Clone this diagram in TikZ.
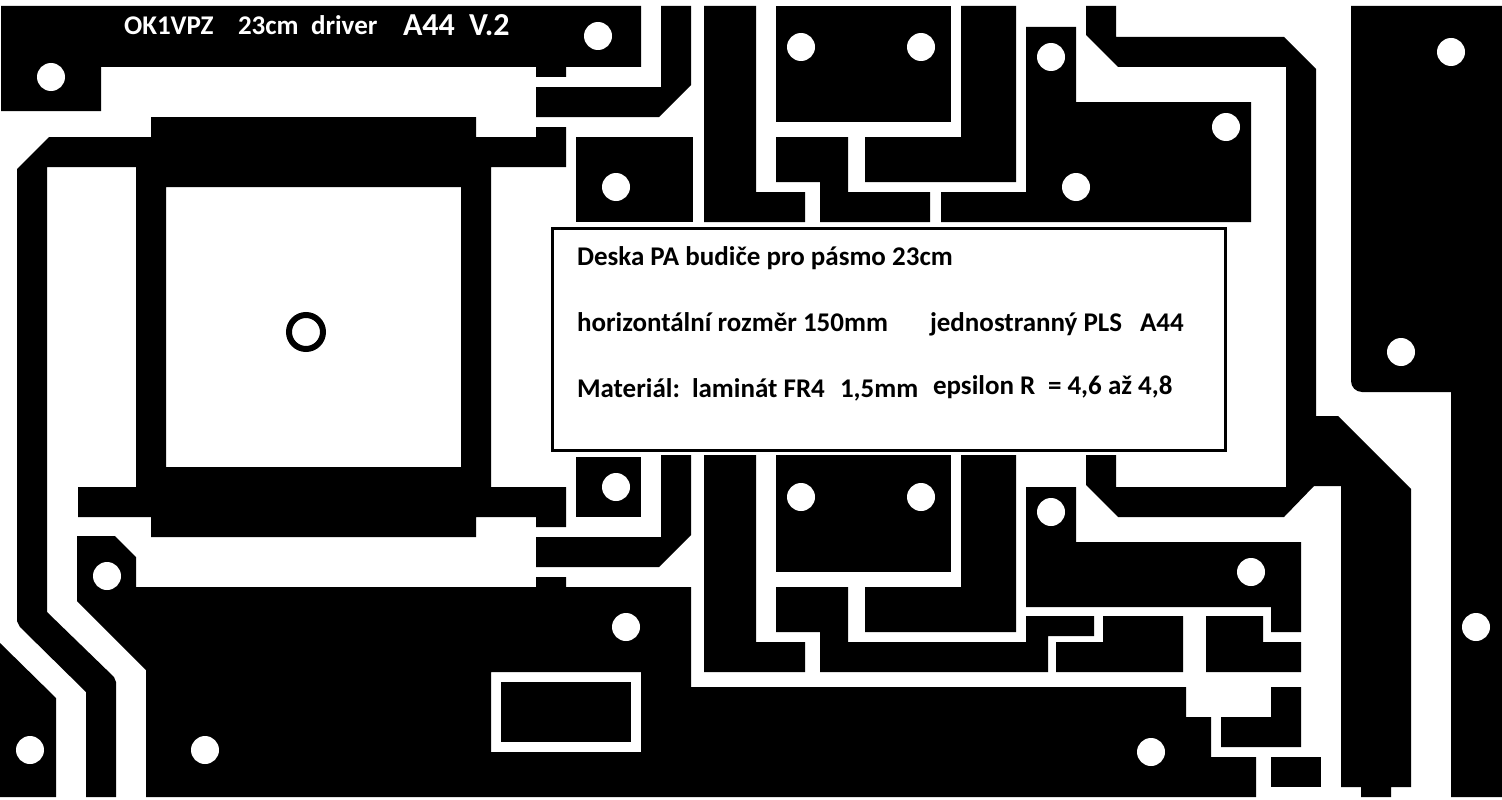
\documentclass[tikz,border=0pt]{standalone}
\usepackage{fontspec}
\setmainfont{Carlito}
\tikzset{
  copper/.style={fill=black,draw=none},
  hole/.style={fill=white,draw=none},
  infotext/.style={anchor=base west,inner sep=0pt,outer sep=0pt,text=black,font=\fontsize{27}{27}\selectfont\bfseries},
  toptext/.style={anchor=base west,inner sep=0pt,outer sep=0pt,text=white,font=\fontsize{27}{27}\selectfont\bfseries},
  toptextbig/.style={anchor=base west,inner sep=0pt,outer sep=0pt,text=white,font=\fontsize{32}{32}\selectfont\bfseries}
}
\begin{document}
\begin{tikzpicture}[x=1pt,y=-1pt]
\useasboundingbox (0,0) rectangle (1502,800);
\fill[white] (0,0) rectangle (1502,800);
% top left
\path[copper] (1,6)--(641,6)--(641,67)--(566,67)--(566,77)--(536,77)--(536,67)--(101,67)--(101,111)--(1,111)--cycle;
\path[copper] (536,87)--(661,87)--(661,6)--(691,6)--(691,85)--(659,117)--(536,117)--cycle;
% transformer block with left trace
\path[copper,even odd rule] (17,169)--(49,137)--(151,137)--(151,117)--(476,117)--(476,137)--(536,137)--(536,127)--(566,127)--(566,167)--(491,167)--(491,487)--(566,487)--(566,527)--(536,527)--(536,517)--(476,517)--(476,537)--(151,537)--(151,517)--(78,517)--(78,487)--(136,487)--(136,167)--(47,167)--(47,612)--(114,677)--(116,682)--(116,797)--(86,797)--(86,692)--(20,627)--(17,621)--cycle
 (166,187) rectangle (461,467);
% bottom-left corner
\path[copper] (0,643)--(56,698)--(56,797)--(0,797)--cycle;
% ground plane
\path[copper,even odd rule] (77,536)--(115,536)--(136,557)--(136,587)--(536,587)--(536,577)--(566,577)--(566,587)--(691,587)--(691,687)--(1186,687)--(1186,717)--(1211,717)--(1211,757)--(1256,757)--(1256,797)--(146,797)--(146,670)--(77,601)--cycle
 (491,672) rectangle (641,752);
\path[copper] (501,682) rectangle (631,742);
% upper middle
\path[copper] (576,137) rectangle (693,222);
\path[copper] (704,6)--(756,6)--(756,192)--(805,192)--(805,222)--(704,222)--cycle;
\path[copper] (776,6) rectangle (951,122);
\path[copper] (776,137)--(848,137)--(848,192)--(930,192)--(930,222)--(820,222)--(820,182)--(776,182)--cycle;
\path[copper] (961,6)--(1016,6)--(1016,182)--(865,182)--(865,137)--(961,137)--cycle;
\path[copper] (1026,27)--(1076,27)--(1076,102)--(1251,102)--(1251,222)--(941,222)--(941,192)--(1026,192)--cycle;
% long right trace
\path[copper] (1086,6)--(1116,6)--(1116,37)--(1284,37)--(1316,69)--(1316,416)--(1338,416)--(1411,489)--(1411,787)--(1391,787)--(1391,797)--(1361,797)--(1361,787)--(1341,787)--(1341,486)--(1314,486)--(1284,517)--(1118,517)--(1086,485)--(1086,455)--(1116,455)--(1116,487)--(1286,487)--(1286,67)--(1118,67)--(1086,35)--cycle;
% right plane
\path[copper] (1351,6)--(1502,6)--(1502,797)--(1451,797)--(1451,392)--(1362,392) arc[start angle=90,end angle=180,radius=11]--cycle;
% lower middle
\path[copper] (576,457) rectangle (641,517);
\path[copper] (536,537)--(661,537)--(661,455)--(691,455)--(691,535)--(659,567)--(536,567)--cycle;
\path[copper] (704,455)--(756,455)--(756,642)--(805,642)--(805,672)--(704,672)--cycle;
\path[copper] (776,455) rectangle (951,572);
\path[copper] (776,587)--(848,587)--(848,642)--(1026,642)--(1026,616)--(1094,616)--(1094,636)--(1048,636)--(1048,672)--(820,672)--(820,632)--(776,632)--cycle;
\path[copper] (961,455)--(1016,455)--(1016,632)--(865,632)--(865,587)--(961,587)--cycle;
\path[copper] (1026,487)--(1076,487)--(1076,542)--(1301,542)--(1301,632)--(1271,632)--(1271,607)--(1026,607)--cycle;
\path[copper] (1103,616)--(1183,616)--(1183,672)--(1056,672)--(1056,642)--(1103,642)--cycle;
\path[copper] (1206,616)--(1263,616)--(1263,642)--(1301,642)--(1301,672)--(1206,672)--cycle;
\path[copper] (1221,717)--(1271,717)--(1271,687)--(1301,687)--(1301,747)--(1221,747)--cycle;
\path[copper] (1271,757) rectangle (1321,787);
% holes
\foreach \hx/\hy in {51/77,598/36,801/47,921/47,1051/57,1451/52,1226/127,616/187,1076/187,1401/352,616/487,801/497,921/497,1051/512,1251/572,107/576,626/627,1476/627,30/750,205/750,1151/752}
  \path[hole] (\hx,\hy) circle[radius=14];
% centre ring
\draw[line width=6pt,black] (306,332) circle[radius=17];
% info box
\draw[line width=3pt,black,fill=white] (552.5,228.5) rectangle (1225.5,450.5);
% texts
\node[toptext] (t1) at (124,35) {OK1VPZ};
\node[toptext] (t2) at (238,35) {23cm};
\node[toptext] (t3) at (311,35) {driver};
\node[toptextbig] (t4) at (403,35.5) {A44};
\node[toptextbig] (t5) at (469,35.5) {V.2};
\node[infotext] (i1) at (577,265) {Deska PA budiče pro pásmo 23cm};
\node[infotext] (i2) at (577,331) {horizontální rozměr 150mm};
\node[infotext] (i3) at (930,331) {jednostranný PLS};
\node[infotext] (i4) at (1140,331) {A44};
\node[infotext] (i5) at (577,397) {Materiál:};
\node[infotext] (i6) at (692,397) {laminát FR4};
\node[infotext] (i7) at (840,397) {1,5mm};
\node[infotext] (i8) at (933,394) {epsilon R};
\node[infotext] (i9) at (1048,394) {= 4,6 až 4,8};
\end{tikzpicture}
\end{document}
